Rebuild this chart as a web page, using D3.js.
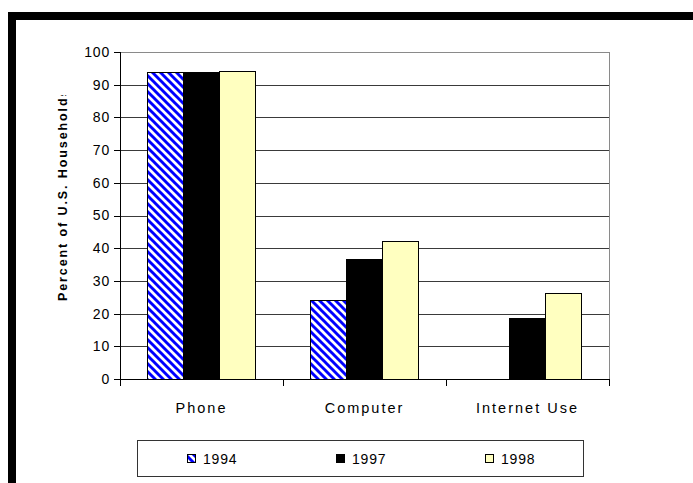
<!DOCTYPE html>
<html>
<head>
<meta charset="utf-8">
<script src="https://cdn.jsdelivr.net/npm/d3@7"></script>
<style>
  html, body { margin: 0; padding: 0; background: #fff; }
  svg { display: block; font-family: "Liberation Sans", Arial, sans-serif; }
</style>
</head>
<body>
<svg id="chart" width="693" height="483"></svg>
<script>
// Household technology penetration, percent of U.S. households
const categories = ["Phone", "Computer", "Internet Use"];
const years = ["1994", "1997", "1998"];
const values1994 = [93.8, 24.1, null];
const values1997 = [93.8, 36.6, 18.6];
const values1998 = [93.9, 42.1, 26.2];
const yTicks = [0, 10, 20, 30, 40, 50, 60, 70, 80, 90, 100];
const yTitle = "Percent of U.S. Households";

const seriesValues = [values1994, values1997, values1998];

const svg = d3.select("#chart");
const W = 693, H = 483;
const plot = { left: 120, right: 609, top: 52, bottom: 379 };

// outer frame: heavy black rule on top and left
svg.append("rect").attr("x", 8).attr("y", 12).attr("width", W - 8).attr("height", 8).attr("fill", "#000");
svg.append("rect").attr("x", 8).attr("y", 12).attr("width", 8).attr("height", H - 12).attr("fill", "#000");

// diagonal hatch used by the 1994 series
const defs = svg.append("defs");
const pat = defs.append("pattern")
  .attr("id", "hatch")
  .attr("patternUnits", "userSpaceOnUse")
  .attr("width", 8).attr("height", 8);
pat.append("rect").attr("width", 8).attr("height", 8).attr("fill", "#fff");
pat.append("path")
  .attr("d", "M-2,-2 L10,10 M-2,6 L2,10 M6,-2 L10,2")
  .attr("stroke", "#0000ff").attr("stroke-width", 2.9);

const fills = { "1994": "url(#hatch)", "1997": "#000000", "1998": "#ffffc0" };

const y = d3.scaleLinear().domain([0, 100]).range([plot.bottom, plot.top]);
const x0 = d3.scaleBand().domain(categories).range([plot.left, plot.right]).padding(0);
const x1 = d3.scaleBand().domain(years).range([0, x0.bandwidth()]).paddingInner(0).paddingOuter(0.78);

// gridlines
const grid = svg.append("g")
  .attr("transform", `translate(${plot.left},0)`)
  .call(d3.axisLeft(y).tickValues(yTicks.filter(v => v > 0 && v < 100)).tickSize(-(plot.right - plot.left)).tickFormat(""));
grid.select(".domain").remove();
grid.selectAll("line").attr("stroke", "#3a3a3a").attr("stroke-width", 1).attr("shape-rendering", "crispEdges");

// plot frame: top and right edges in grey
svg.append("path")
  .attr("d", `M${plot.left},${y(100)}H${plot.right}V${plot.bottom}`)
  .attr("fill", "none").attr("stroke", "#8a8a8a").attr("stroke-width", 1)
  .attr("shape-rendering", "crispEdges");

// bars
const groups = svg.append("g").selectAll("g")
  .data(categories)
  .join("g")
  .attr("transform", d => `translate(${x0(d)},0)`);

groups.selectAll("rect")
  .data((c, i) => years.map((yr, k) => ({ year: yr, value: seriesValues[k][i] })).filter(d => d.value != null))
  .join("rect")
  .attr("x", d => x1(d.year))
  .attr("y", d => y(d.value))
  .attr("width", x1.bandwidth())
  .attr("height", d => y(0) - y(d.value))
  .attr("fill", d => fills[d.year])
  .attr("stroke", "#000")
  .attr("stroke-width", 1)
  .attr("shape-rendering", "crispEdges");

// y axis
const yAxis = svg.append("g")
  .attr("transform", `translate(${plot.left},0)`)
  .call(d3.axisLeft(y).tickValues(yTicks).tickSize(6).tickPadding(4));
yAxis.select(".domain").attr("stroke", "#000").attr("shape-rendering", "crispEdges");
yAxis.selectAll("line").attr("stroke", "#000").attr("shape-rendering", "crispEdges");
yAxis.selectAll("text")
  .attr("font-size", 14).attr("fill", "#000")
  .attr("letter-spacing", 0.8)
  .attr("font-family", "\"Liberation Sans\", Arial, sans-serif");

// x axis with category labels and boundary ticks
const xAxis = svg.append("g")
  .attr("transform", `translate(0,${plot.bottom})`)
  .call(d3.axisBottom(x0).tickSize(0).tickPadding(0));
xAxis.select(".domain").remove();
xAxis.selectAll("text")
  .attr("y", 34).attr("dy", 0)
  .attr("font-size", 14.5).attr("fill", "#000")
  .attr("letter-spacing", 2)
  .attr("font-family", "\"Liberation Sans\", Arial, sans-serif");

const bounds = [x0(categories[0])].concat(categories.map(c => x0(c) + x0.bandwidth()));
svg.append("line")
  .attr("x1", plot.left).attr("x2", plot.right)
  .attr("y1", plot.bottom + 0.5).attr("y2", plot.bottom + 0.5)
  .attr("stroke", "#000");
svg.append("g").selectAll("line")
  .data(bounds)
  .join("line")
  .attr("x1", d => Math.round(d) + 0.5).attr("x2", d => Math.round(d) + 0.5)
  .attr("y1", plot.bottom).attr("y2", plot.bottom + 7)
  .attr("stroke", "#000");

// y axis title, clipped at the top edge of its box
defs.append("clipPath").attr("id", "titleClip")
  .append("rect").attr("x", 0).attr("y", 95).attr("width", 110).attr("height", 300);
svg.append("g")
  .attr("clip-path", "url(#titleClip)")
  .append("text")
  .attr("transform", "translate(67,301) rotate(-90)")
  .attr("font-size", 12.5).attr("font-weight", "bold")
  .attr("letter-spacing", 1.9)
  .attr("fill", "#000")
  .text(yTitle);

// legend
const legend = svg.append("g");
legend.append("rect")
  .attr("x", 137.5).attr("y", 440.5).attr("width", 446).attr("height", 36)
  .attr("fill", "#fff").attr("stroke", "#333").attr("stroke-width", 1);
const legendX = d3.scalePoint().domain(years).range([187, 485]);
const items = legend.selectAll("g.item")
  .data(years)
  .join("g").attr("class", "item")
  .attr("transform", d => `translate(${legendX(d)},0)`);
items.append("rect")
  .attr("x", 0.5).attr("y", 454.5).attr("width", 8).attr("height", 8)
  .attr("fill", d => fills[d]).attr("stroke", "#000");
items.append("text")
  .attr("x", 16).attr("y", 463.5)
  .attr("font-size", 14).attr("letter-spacing", 0.8).attr("fill", "#000")
  .text(d => d);
</script>
</body>
</html>
